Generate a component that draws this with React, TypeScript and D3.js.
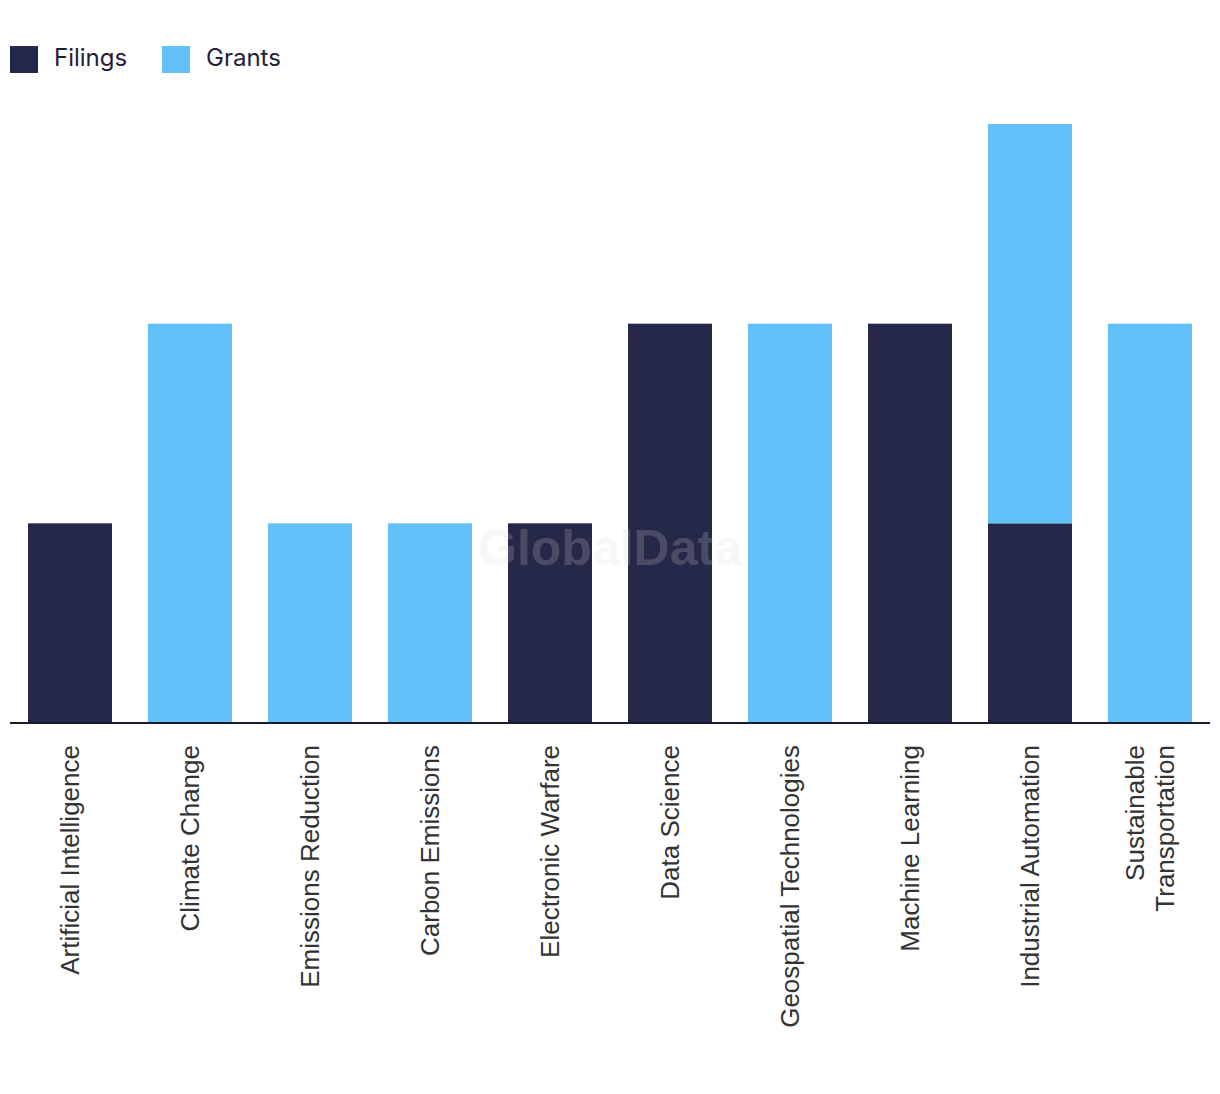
import React, { useEffect, useRef } from 'react';
import * as d3 from 'd3';

const categories = [
  'Artificial Intelligence',
  'Climate Change',
  'Emissions Reduction',
  'Carbon Emissions',
  'Electronic Warfare',
  'Data Science',
  'Geospatial Technologies',
  'Machine Learning',
  'Industrial Automation',
  'Sustainable Transportation',
];
const filings = [1, 0, 0, 0, 1, 2, 0, 2, 1, 0];
const grants = [0, 2, 1, 1, 0, 0, 2, 0, 2, 2];
const seriesNames = ['Filings', 'Grants'];
const seriesColors = ['#262849', '#62c1f9'];

const W = 1220;
const H = 1094;

const App: React.FC = () => {
  const ref = useRef<SVGSVGElement>(null);

  useEffect(() => {
    if (!ref.current) return;
    const svg = d3.select(ref.current);
    svg.selectAll('*').remove();

    const rows = categories.map((c, i) => ({ cat: c, Filings: filings[i], Grants: grants[i] }));
    const stack = d3.stack<any>().keys(seriesNames)(rows);

    const x = d3.scaleBand().domain(categories).range([10, 1210]).paddingInner(0.3).paddingOuter(0.15);
    const y = d3.scaleLinear().domain([0, 3]).range([723, 124]);
    const color = d3.scaleOrdinal<string>().domain(seriesNames).range(seriesColors);

    // bars
    svg.append('g')
      .selectAll('g')
      .data(stack)
      .join('g')
      .attr('fill', d => color(d.key))
      .selectAll('rect')
      .data(d => d)
      .join('rect')
      .attr('x', d => x(d.data.cat)!)
      .attr('y', d => y(d[1]))
      .attr('width', x.bandwidth())
      .attr('height', d => y(d[0]) - y(d[1]));

    // baseline
    svg.append('line')
      .attr('x1', 10).attr('x2', 1210)
      .attr('y1', y(0)).attr('y2', y(0))
      .attr('stroke', '#1a1a2e').attr('stroke-width', 2);

    // category labels
    const labels = svg.append('g')
      .attr('font-family', '"Liberation Sans", Arial, sans-serif')
      .attr('font-size', 26)
      .attr('fill', '#333');
    categories.forEach(c => {
      const lines = c.length > 24 ? c.split(' ') : [c];
      const t = labels.append('text')
        .attr('transform', `translate(${x(c)! + x.bandwidth() / 2},745) rotate(-90)`)
        .attr('text-anchor', 'end');
      lines.forEach((ln, j) => {
        t.append('tspan')
          .attr('x', 0)
          .attr('y', (j - (lines.length - 1) / 2) * 30)
          .attr('dy', '0.35em')
          .text(ln);
      });
    });

    // legend
    const legend = svg.append('g').attr('font-family', 'Inter, "Noto Sans", sans-serif').attr('font-size', 24).attr('fill', '#1f2038');
    const lx = [10, 162];
    seriesNames.forEach((s, i) => {
      legend.append('rect').attr('x', lx[i]).attr('y', 46).attr('width', 28).attr('height', 27).attr('fill', color(s));
      legend.append('text').attr('x', lx[i] + 44).attr('y', 58).attr('dy', '0.35em').text(s);
    });

    // watermark
    svg.append('text')
      .attr('x', 610).attr('y', 565)
      .attr('text-anchor', 'middle')
      .attr('font-family', '"Liberation Sans", Arial, sans-serif')
      .attr('font-weight', 'bold')
      .attr('font-size', 50)
      .attr('fill', '#dadada')
      .attr('opacity', 0.2)
      .text('GlobalData');
  }, []);

  return (
    <div style={{ position: 'absolute', left: 0, top: 0 }}>
      <svg ref={ref} width={W} height={H} style={{ display: 'block', background: '#fff' }} />
    </div>
  );
};

export default App;
